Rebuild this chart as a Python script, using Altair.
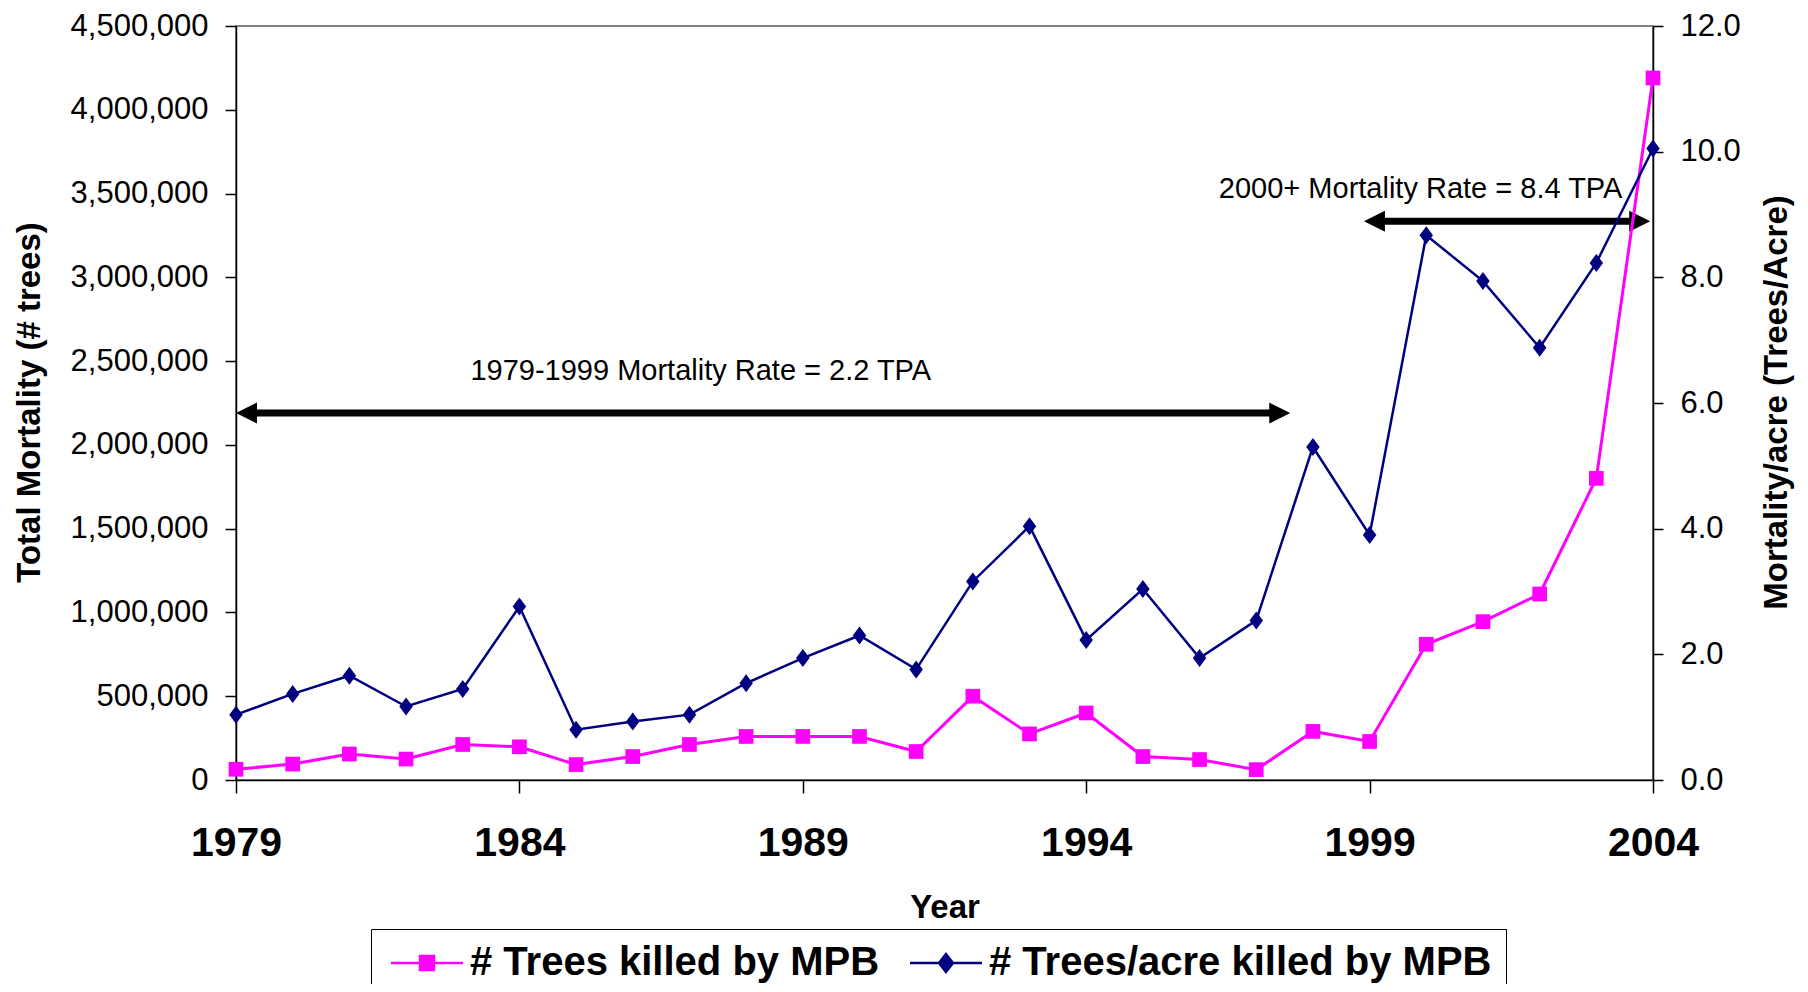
import altair as alt
import pandas as pd

# ---------------- data ----------------
years = list(range(1979, 2005))
trees_killed = [64000, 95000, 155000, 125000, 212000, 198000, 92000, 140000,
                212000, 260000, 260000, 260000, 170000, 500000, 275000, 400000,
                140000, 122000, 62000, 290000, 230000, 810000, 945000, 1110000,
                1800000, 4190000]
trees_per_acre = [1.04, 1.37, 1.66, 1.17, 1.45, 2.76, 0.80, 0.93, 1.04, 1.54,
                  1.94, 2.30, 1.76, 3.16, 4.04, 2.23, 3.04, 1.94, 2.54, 5.30,
                  3.90, 8.67, 7.94, 6.88, 8.23, 10.05]

series_names = ["# Trees killed by MPB", "# Trees/acre killed by MPB"]
series_colors = ["#FF00FF", "#000080"]

x_ticks = [1979, 1984, 1989, 1994, 1999, 2004]
left_ticks = [0, 500000, 1000000, 1500000, 2000000, 2500000, 3000000, 3500000, 4000000, 4500000]
right_ticks = [0, 2, 4, 6, 8, 10, 12]

# annotation arrows (period covered) and their labels
arrow_start = [1979, 1998.9]
arrow_end = [1997.6, 2003.95]
arrow_level = [2190000, 3334000]
note_text = ["1979-1999 Mortality Rate = 2.2 TPA", "2000+ Mortality Rate = 8.4 TPA"]
note_x = [1987.2, 1999.9]
note_y = [2440000, 3525000]

FONT = "Liberation Sans"

df = pd.DataFrame({"year": years, "trees": trees_killed, "tpa": trees_per_acre})
arrows = pd.DataFrame({"start": arrow_start, "end": arrow_end, "level": arrow_level})
notes = pd.DataFrame({"label": note_text, "nx": note_x, "ny": note_y})
legend_df = pd.DataFrame({"series": series_names})

# ---------------- scales / axes ----------------
xscale = alt.Scale(domain=[1979, 2004], nice=False, zero=False)
xaxis = alt.Axis(values=x_ticks, format="d", title="Year", grid=False,
                 labelFont=FONT, labelFontSize=41, labelFontWeight="bold",
                 labelColor="black", labelPadding=30, labelFlush=False,
                 labelOverlap=False, tickSize=13, tickColor="black",
                 domainColor="black", domainWidth=1.5, tickWidth=1.5,
                 titleFont=FONT, titleFontSize=33, titleFontWeight="bold",
                 titleColor="black", titleX=708.5, titleY=127,
                 titleBaseline="middle", titleAlign="center")

lscale = alt.Scale(domain=[0, 4500000], nice=False, zero=True)
laxis = alt.Axis(values=left_ticks, format=",.0f", title="Total Mortality (# trees)",
                 orient="left", grid=False,
                 labelFont=FONT, labelFontSize=31, labelColor="black",
                 labelPadding=17, labelOverlap=False, labelFlush=False,
                 tickSize=11, tickColor="black", tickWidth=1.5,
                 domainColor="black", domainWidth=1.5,
                 titleFont=FONT, titleFontSize=33, titleFontWeight="bold",
                 titleColor="black", titleAngle=270, titleX=-207, titleY=376,
                 titleBaseline="middle", titleAlign="center")

rscale = alt.Scale(domain=[0, 12], nice=False, zero=True)
raxis = alt.Axis(values=right_ticks, format=".1f", title="Mortality/acre (Trees/Acre)",
                 orient="right", grid=False,
                 labelFont=FONT, labelFontSize=31, labelColor="black",
                 labelPadding=17, labelOverlap=False, labelFlush=False,
                 tickSize=10, tickColor="black", tickWidth=1.5,
                 domainColor="black", domainWidth=1.5,
                 titleFont=FONT, titleFontSize=33, titleFontWeight="bold",
                 titleColor="black", titleAngle=270, titleX=123, titleY=376,
                 titleBaseline="middle", titleAlign="center")

X = alt.X("year:Q", scale=xscale, axis=xaxis)

# ---------------- left group ----------------
arrow_body = alt.Chart(arrows).mark_rule(color="black", strokeWidth=7,
                                         xOffset=14, x2Offset=-14).encode(
    x=alt.X("start:Q", scale=xscale, axis=xaxis),
    x2="end:Q",
    y=alt.Y("level:Q", scale=lscale, axis=laxis),
)
head_left = alt.Chart(arrows).mark_point(shape="M0,0L2,-1L2,1Z", filled=True,
                                         size=441, color="black", opacity=1,
                                         strokeWidth=0).encode(
    x=alt.X("start:Q", scale=xscale, axis=xaxis),
    y=alt.Y("level:Q", scale=lscale, axis=laxis),
)
head_right = alt.Chart(arrows).mark_point(shape="M0,0L-2,-1L-2,1Z", filled=True,
                                          size=441, color="black", opacity=1,
                                          strokeWidth=0).encode(
    x=alt.X("end:Q", scale=xscale, axis=xaxis),
    y=alt.Y("level:Q", scale=lscale, axis=laxis),
)
note_marks = alt.Chart(notes).mark_text(font=FONT, fontSize=29, color="black",
                                        align="center", baseline="middle").encode(
    x=alt.X("nx:Q", scale=xscale, axis=xaxis),
    y=alt.Y("ny:Q", scale=lscale, axis=laxis),
    text="label:N",
)
pink_line = alt.Chart(df).mark_line(color=series_colors[0], strokeWidth=3).encode(
    x=X, y=alt.Y("trees:Q", scale=lscale, axis=laxis))
pink_pts = alt.Chart(df).mark_point(shape="square", filled=True, size=216,
                                    color=series_colors[0], opacity=1).encode(
    x=X, y=alt.Y("trees:Q", scale=lscale, axis=laxis))

left = alt.layer(arrow_body, head_left, head_right, note_marks, pink_line, pink_pts)

# ---------------- right group ----------------
navy_line = alt.Chart(df).mark_line(color=series_colors[1], strokeWidth=2.5).encode(
    x=X, y=alt.Y("tpa:Q", scale=rscale, axis=raxis))
navy_pts = alt.Chart(df).mark_point(shape="M0,-1L0.75,0L0,1L-0.75,0Z", filled=True,
                                    size=324, color=series_colors[1], opacity=1).encode(
    x=X, y=alt.Y("tpa:Q", scale=rscale, axis=raxis))

right = alt.layer(navy_line, navy_pts)

# ---------------- legend (symbols only, no data drawn) ----------------
legend_paths = [
    "M-1,0H4.14M1.07,-0.5H2.07V0.5H1.07Z",
    "M-1,0H4.14M1.57,-0.64L2.07,0L1.57,0.64L1.07,0Z",
]
leg = alt.Legend(title=None, orient="none", legendX=135, legendY=903,
                 direction="horizontal", columns=2,
                 labelFont=FONT, labelFontSize=40, labelFontWeight="bold",
                 labelColor="black", labelLimit=1000, labelOffset=45,
                 columnPadding=24, padding=14, strokeColor="black",
                 fillColor="white", symbolSize=784, symbolStrokeWidth=2.5)
legend_layer = alt.Chart(legend_df).transform_filter("false").mark_point(
    filled=True, size=784, opacity=1, strokeWidth=2.5).encode(
    fill=alt.Fill("series:N", scale=alt.Scale(domain=series_names, range=series_colors), legend=leg),
    stroke=alt.Stroke("series:N", scale=alt.Scale(domain=series_names, range=series_colors), legend=leg),
    shape=alt.Shape("series:N", scale=alt.Scale(domain=series_names, range=legend_paths), legend=leg),
)

chart = alt.layer(left, right, legend_layer).resolve_scale(y="independent").properties(
    width=1417, height=754,
    autosize=alt.AutoSizeParams(type="none"),
    padding={"left": 228, "top": 18, "right": 147, "bottom": 204},
    background="white",
).configure_view(stroke="#808080", strokeWidth=2)

chart.save("out.html", embed_options={"renderer": "svg", "actions": False})
